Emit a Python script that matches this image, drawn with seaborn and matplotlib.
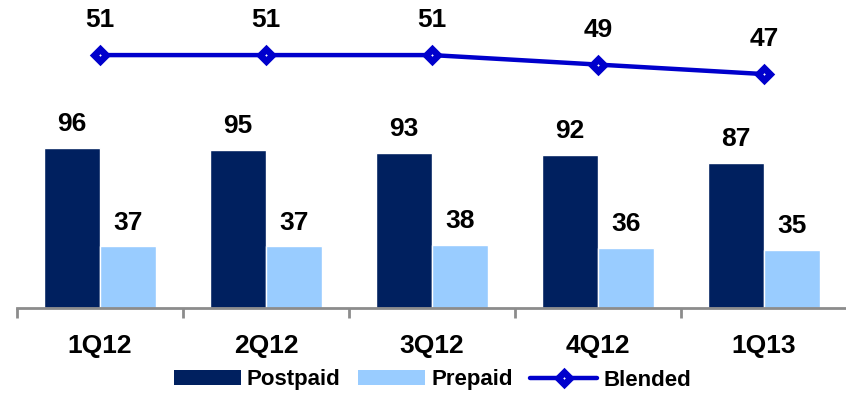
import matplotlib
matplotlib.use("Agg")
import matplotlib.pyplot as plt
from matplotlib.lines import Line2D
from matplotlib.patches import Patch
import seaborn as sns
import pandas as pd
import numpy as np

quarters = ["1Q12", "2Q12", "3Q12", "4Q12", "1Q13"]
postpaid = [96, 95, 93, 92, 87]
prepaid = [37, 37, 38, 36, 35]
blended = [51, 51, 51, 49, 47]

NAVY = "#00205F"
LIGHT = "#99CCFF"
BLUE = "#0000CC"
GRAY = "#8C8C8C"

sns.set_theme(style="white")
plt.rcParams["font.family"] = ["Liberation Sans", "DejaVu Sans"]
plt.rcParams["text.color"] = "black"

df = pd.DataFrame({
    "quarter": quarters * 2,
    "value": postpaid + prepaid,
    "series": ["Postpaid"] * len(quarters) + ["Prepaid"] * len(quarters),
})

fig = plt.figure(figsize=(8.46, 3.94), dpi=100)
ax = fig.add_axes([17 / 846, 86 / 394, 830 / 846, 308 / 394])

sns.barplot(data=df, x="quarter", y="value", hue="series", order=quarters,
            hue_order=["Postpaid", "Prepaid"], palette=[NAVY, LIGHT],
            width=0.67, gap=0, saturation=1, errorbar=None, legend=False, ax=ax)

for container in ax.containers:
    ax.bar_label(container, fmt="%d", padding=8.5, fontsize=19,
                 fontweight="bold", color="black")

ax.set_xlim(-0.5, 4.5)
ax.set_ylim(0, 184.8)
ax.set_xlabel("")
ax.set_ylabel("")
ax.set_yticks([])
for side in ("top", "right", "left"):
    ax.spines[side].set_visible(False)
ax.spines["bottom"].set_color(GRAY)
ax.spines["bottom"].set_linewidth(2)

ax.set_xticks(np.arange(len(quarters)))
ax.set_xticklabels(quarters, fontsize=19, fontweight="bold")
ax.set_xticks(np.arange(-0.5, len(quarters)), minor=True)
ax.tick_params(axis="x", which="major", bottom=True, length=0, pad=19,
               labelcolor="black")
ax.tick_params(axis="x", which="minor", bottom=True, length=7, width=2,
               color=GRAY)

ax2 = ax.twinx()
ax2.set_ylim(-2.26, 62.6)
ax2.plot(np.arange(len(quarters)), blended, color=BLUE, lw=3.2,
         marker="D", ms=6.5, mfc="white", mec=BLUE, mew=4.8)
for i, v in enumerate(blended):
    ax2.annotate(f"{v}", (i, v), xytext=(0, 16.5), textcoords="offset points",
                 ha="center", va="bottom", fontsize=19, fontweight="bold",
                 color="black")
ax2.set_yticks([])
for side in ("top", "right", "left", "bottom"):
    ax2.spines[side].set_visible(False)
ax2.set_xlim(-0.5, 4.5)

handles = [
    Patch(facecolor=NAVY, edgecolor="none"),
    Patch(facecolor=LIGHT, edgecolor="none"),
    Line2D([], [], color=BLUE, lw=3.2, marker="D", ms=6.5, mfc="white",
           mec=BLUE, mew=4.8),
]
fig.legend(handles, ["Postpaid", "Prepaid", "Blended"], loc="center",
           bbox_to_anchor=(432.5 / 846, 1 - 380 / 394), ncol=3, frameon=False,
           prop={"weight": "bold", "size": 16}, handlelength=3.0,
           handleheight=0.63, handletextpad=0.27, columnspacing=0.8,
           borderpad=0, borderaxespad=0)

fig.savefig("out.png", dpi=100)
